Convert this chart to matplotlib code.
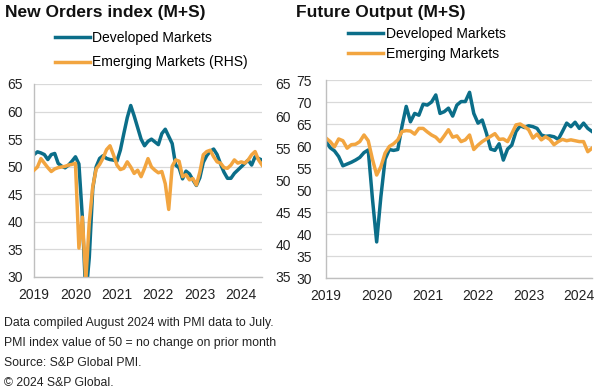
import matplotlib
matplotlib.use("Agg")
import matplotlib.pyplot as plt
from matplotlib import font_manager

plt.rcParams['font.family'] = ['Liberation Sans', 'DejaVu Sans']

TEAL = '#0b6e89'
ORANGE = '#f2a540'
GRID = '#d9d9d9'

# New Orders index, monthly Jan 2019 - Jul 2024
no_dm = [52.2, 52.7, 52.5, 52.2, 51.3, 52.2, 52.4, 50.6, 50.1, 49.8, 50.3, 51.0,
         51.8, 50.5, 40.8, 26.5, 33.5, 46.0, 50.0, 51.5, 52.0, 51.5, 51.3, 51.2,
         51.0, 53.0, 56.0, 58.9, 61.1, 59.2, 57.1, 55.0, 53.8, 54.6, 55.0, 54.5,
         54.0, 56.0, 56.8, 55.5, 54.2, 50.3, 49.8, 47.8, 49.2, 48.7, 47.6, 46.6,
         48.0, 50.8, 52.0, 52.8, 53.2, 52.2, 50.5, 49.0, 47.9, 47.9, 48.8, 49.4,
         50.0, 50.6, 51.2, 50.3, 51.8, 51.5, 51.2]
no_em = [51.6, 52.1, 53.4, 52.7, 52.0, 51.4, 51.8, 52.0, 52.1, 52.2, 52.4, 52.5,
         52.7, 39.5, 44.3, 34.5, 43.5, 49.0, 51.8, 52.5, 53.5, 54.8, 55.4, 54.0,
         52.4, 51.7, 51.9, 52.9, 52.1, 51.1, 51.6, 50.6, 51.9, 53.4, 52.1, 51.6,
         51.2, 51.4, 49.5, 45.5, 52.2, 53.2, 53.0, 50.6, 50.9, 50.1, 50.3, 49.3,
         51.3, 54.0, 54.5, 54.7, 53.7, 52.9, 52.7, 52.0, 51.9, 52.4, 53.2, 52.7,
         52.9, 52.7, 53.2, 54.0, 54.5, 53.2, 52.4]

# Future Output index, monthly Apr 2019 - Jul 2024
fo_dm = [61.0, 59.6, 58.9, 57.6, 55.5, 55.9, 56.3, 56.8, 57.4, 58.5, 59.1, 48.0,
         38.2, 48.5, 57.0, 59.2, 59.0, 59.2, 64.5, 69.0, 65.5, 67.4, 67.0, 69.5,
         69.3, 70.0, 71.6, 67.4, 67.8, 68.6, 66.8, 69.3, 70.1, 70.1, 72.2, 67.4,
         65.2, 65.9, 62.9, 59.3, 59.0, 60.5, 56.8, 59.3, 60.2, 63.3, 64.6, 64.2,
         64.6, 64.4, 64.0, 62.5, 62.2, 62.3, 62.1, 61.5, 63.3, 65.2, 64.4, 65.4,
         64.0, 65.2, 64.0, 63.3]
fo_em = [61.8, 61.0, 59.8, 61.6, 61.2, 59.5, 60.3, 60.4, 61.0, 62.5, 61.2, 57.0,
         53.4, 55.3, 58.4, 59.9, 60.5, 61.4, 63.3, 63.5, 63.4, 62.7, 64.0, 64.0,
         63.2, 62.5, 62.0, 61.0, 62.3, 63.7, 62.0, 62.3, 61.0, 61.4, 62.5, 59.2,
         60.2, 61.0, 61.6, 62.2, 62.8, 61.5, 61.6, 61.0, 62.8, 64.8, 65.0, 64.4,
         63.7, 61.8, 62.7, 61.4, 62.1, 61.5, 60.3, 61.0, 61.5, 61.2, 61.4, 61.2,
         61.0, 61.0, 58.7, 59.5]

years = ['2019', '2020', '2021', '2022', '2023', '2024']
year_ticks = [0, 12, 24, 36, 48, 60]

names = {f.name for f in font_manager.fontManager.ttflist}
narrow = 'Liberation Sans Narrow' if 'Liberation Sans Narrow' in names else None

W, H = 614, 392
fig = plt.figure(figsize=(W / 100, H / 100), dpi=100)


def style(ax, pad):
    for s in ['top', 'right']:
        ax.spines[s].set_visible(False)
    for s in ['left', 'bottom']:
        ax.spines[s].set_color('#bfbfbf')
        ax.spines[s].set_linewidth(1.0)
    ax.grid(axis='y', color=GRID, linewidth=0.9)
    ax.set_axisbelow(True)
    ax.tick_params(length=0, labelsize=10, colors='#222222', pad=pad)
    ax.tick_params(axis='x', pad=8)
    ax.set_xticks(year_ticks)
    ax.set_xticklabels(years)


# left panel: New Orders
ax1 = fig.add_axes([34 / W, 1 - 277 / H, 228 / W, 193 / H])
style(ax1, 8)
x1 = list(range(len(no_dm)))
l1, = ax1.plot(x1, no_dm, color=TEAL, lw=2.5, solid_joinstyle='round')
ax1.set_ylim(30, 65)
ax1.set_yticks(range(30, 66, 5))
ax1.set_xlim(0, len(no_dm) - 1)

ax1b = ax1.twinx()
for s in ax1b.spines.values():
    s.set_visible(False)
l2, = ax1b.plot(x1, no_em, color=ORANGE, lw=2.5, solid_joinstyle='round')
ax1b.set_ylim(35, 65)
ax1b.set_yticks(range(35, 66, 5))
ax1b.tick_params(length=0, labelsize=10, colors='#222222', pad=9.5)

fig.legend([l1, l2], ['Developed Markets', 'Emerging Markets (RHS)'],
           loc='upper left', bbox_to_anchor=(55 / W, 1 - 31 / H),
           frameon=False, fontsize=10, handlelength=2.5, handletextpad=0.2,
           labelspacing=0.75, borderpad=0, borderaxespad=0)

# right panel: Future Output
ax2 = fig.add_axes([326 / W, 1 - 278 / H, 266 / W, 198 / H])
style(ax2, 10)
x2 = list(range(len(fo_dm)))
r1, = ax2.plot(x2, fo_dm, color=TEAL, lw=2.5, solid_joinstyle='round')
r2, = ax2.plot(x2, fo_em, color=ORANGE, lw=2.5, solid_joinstyle='round')
ax2.set_ylim(30, 75)
ax2.set_yticks(range(30, 76, 5))
ax2.set_xlim(0, len(fo_dm) - 1)

fig.legend([r1, r2], ['Developed Markets', 'Emerging Markets'],
           loc='upper left', bbox_to_anchor=(348 / W, 1 - 27 / H),
           frameon=False, fontsize=10, handlelength=2.5, handletextpad=0.2,
           labelspacing=0.4, borderpad=0, borderaxespad=0)

fig.text(5 / W, 1 - 13 / H, 'New Orders index (M+S)', fontsize=12.5,
         fontweight='bold', va='center', ha='left', color='#111111')
fig.text(296 / W, 1 - 13 / H, 'Future Output (M+S)', fontsize=12.5,
         fontweight='bold', va='center', ha='left', color='#111111')

notes = ['Data compiled August 2024 with PMI data to July.',
         'PMI index value of 50 = no change on prior month',
         'Source: S&P Global PMI.',
         '\u00a9 2024 S&P Global.']
note_fam = [narrow, 'Liberation Sans', 'DejaVu Sans'] if narrow else ['Liberation Sans', 'DejaVu Sans']
note_size = 9.5 if narrow else 8.8
for i, t in enumerate(notes):
    fig.text(4 / W, 1 - (323 + 20 * i) / H, t, fontsize=note_size, family=note_fam,
             va='center', ha='left', color='#222222')

fig.savefig('out.png', dpi=100)
